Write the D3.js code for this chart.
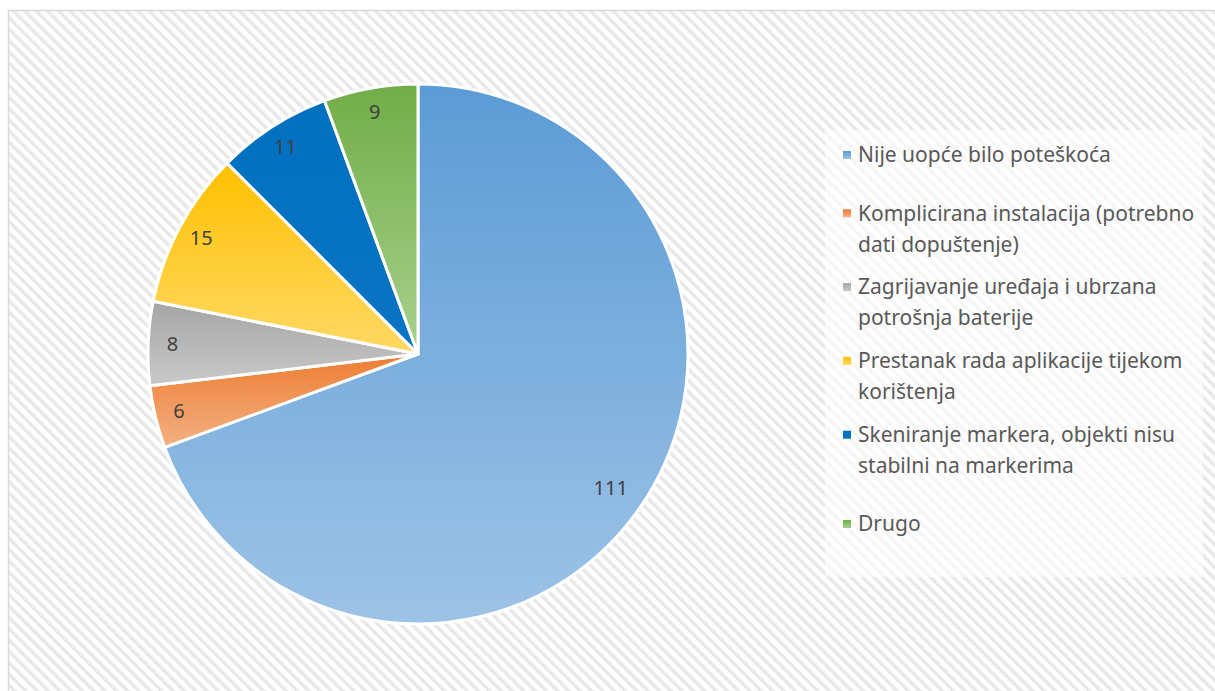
<!DOCTYPE html>
<html>

<head>
    <meta charset="utf-8">
    <title>Poteškoće</title>
    <style>
        body {
            margin: 0;
            background: #fff;
        }

        svg {
            display: block;
            font-family: 'Noto Sans', 'Open Sans', sans-serif;
        }

        .slice-label {
            fill: #404040;
            font-size: 20px;
        }

        .legend text {
            fill: #595959;
            font-size: 21px;
        }
    </style>
</head>

<body>
    <figure style="margin:0"></figure>

    <script src="https://d3js.org/d3.v7.min.js"></script>

    <script>

        ////////////////////////////////////
        ///////////// Data /////////////////
        ////////////////////////////////////

        const categories = [
            ['Nije uopće bilo poteškoća'],
            ['Komplicirana instalacija (potrebno', 'dati dopuštenje)'],
            ['Zagrijavanje uređaja i ubrzana', 'potrošnja baterije'],
            ['Prestanak rada aplikacije tijekom', 'korištenja'],
            ['Skeniranje markera, objekti nisu', 'stabilni na markerima'],
            ['Drugo']
        ]
        const values = [111, 6, 8, 15, 11, 9]

        // top / bottom colours of each slice gradient
        const topColors = ['#5b9bd5', '#ed7d31', '#a5a5a5', '#ffc000', '#0070c0', '#70ad47']
        const bottomColors = ['#9dc3e6', '#f4b183', '#c9c9c9', '#ffd966', '#0a75c4', '#a9d18e']

        ////////////////////////////////////
        ///////////// SVG Setup ////////////
        ////////////////////////////////////

        const width = 1215
        const height = 691

        const svg = d3.select('figure')
            .append('svg')
            .attr('width', width)
            .attr('height', height)

        const defs = svg.append('defs')

        // hatched background, stripes running down to the right
        const pattern = defs.append('pattern')
            .attr('id', 'hatch')
            .attr('patternUnits', 'userSpaceOnUse')
            .attr('width', 8)
            .attr('height', 8)
            .attr('patternTransform', 'rotate(-45)')
        pattern.append('rect').attr('width', 8).attr('height', 8).attr('fill', '#ffffff')
        pattern.append('rect').attr('width', 3.5).attr('height', 8).attr('fill', '#e8e8e8')

        topColors.forEach(function (c, i) {
            const g = defs.append('linearGradient')
                .attr('id', 'grad' + i)
                .attr('x1', 0).attr('y1', 0)
                .attr('x2', 0).attr('y2', 1)
            g.append('stop').attr('offset', '0%').attr('stop-color', c)
            g.append('stop').attr('offset', '100%').attr('stop-color', bottomColors[i])
        })

        // chart area with border
        svg.append('rect')
            .attr('x', 8.5)
            .attr('y', 10.5)
            .attr('width', width + 20)
            .attr('height', height + 20)
            .attr('fill', 'url(#hatch)')
            .attr('stroke', '#d9d9d9')
            .attr('stroke-width', 1.5)

        ////////////////////////////////////
        /////////////// Pie ////////////////
        ////////////////////////////////////

        const cx = 418
        const cy = 354
        const radius = 270

        const pie = d3.pie().sort(null).value(function (d) { return d })
        const arcs = pie(values)

        const arc = d3.arc().innerRadius(0).outerRadius(radius)

        const pieG = svg.append('g')
            .attr('transform', 'translate(' + cx + ',' + cy + ')')

        pieG.selectAll('path.slice')
            .data(arcs)
            .enter()
            .append('path')
            .attr('class', 'slice')
            .attr('d', arc)
            .attr('fill', function (d, i) { return 'url(#grad' + i + ')' })
            .attr('stroke', '#ffffff')
            .attr('stroke-width', 3)
            .attr('stroke-linejoin', 'round')

        // labels placed near the rim, large slice a bit further in
        pieG.selectAll('text.slice-label')
            .data(arcs)
            .enter()
            .append('text')
            .attr('class', 'slice-label')
            .attr('transform', function (d) {
                const r = (d.endAngle - d.startAngle) > Math.PI ? radius * 0.87 : radius * 0.91
                const c = d3.arc().innerRadius(r).outerRadius(r).centroid(d)
                return 'translate(' + c[0] + ',' + c[1] + ')'
            })
            .attr('text-anchor', 'middle')
            .attr('dy', '0.35em')
            .text(function (d) { return d.data })

        ////////////////////////////////////
        /////////////// Legend /////////////
        ////////////////////////////////////

        svg.append('rect')
            .attr('x', 825)
            .attr('y', 130)
            .attr('width', 378)
            .attr('height', 447)
            .attr('fill', '#ffffff')
            .attr('opacity', 0.6)

        const lineH = 31
        const legendY = d3.scalePoint()
            .domain(d3.range(categories.length))
            .range([155, 524])

        const legend = svg.append('g').attr('class', 'legend')

        const items = legend.selectAll('g.item')
            .data(categories)
            .enter()
            .append('g')
            .attr('class', 'item')
            .attr('transform', function (d, i) {
                const shift = d.length > 1 ? lineH / 2 : 0
                return 'translate(843,' + (legendY(i) - shift) + ')'
            })

        items.append('rect')
            .attr('x', 0)
            .attr('y', -4)
            .attr('width', 8)
            .attr('height', 8)
            .attr('fill', function (d, i) { return 'url(#grad' + i + ')' })

        items.append('text')
            .attr('x', 15)
            .selectAll('tspan')
            .data(function (d) { return d })
            .enter()
            .append('tspan')
            .attr('x', 15)
            .attr('y', function (d, j) { return j * lineH })
            .attr('dy', '0.35em')
            .text(function (d) { return d })

    </script>
</body>

</html>
